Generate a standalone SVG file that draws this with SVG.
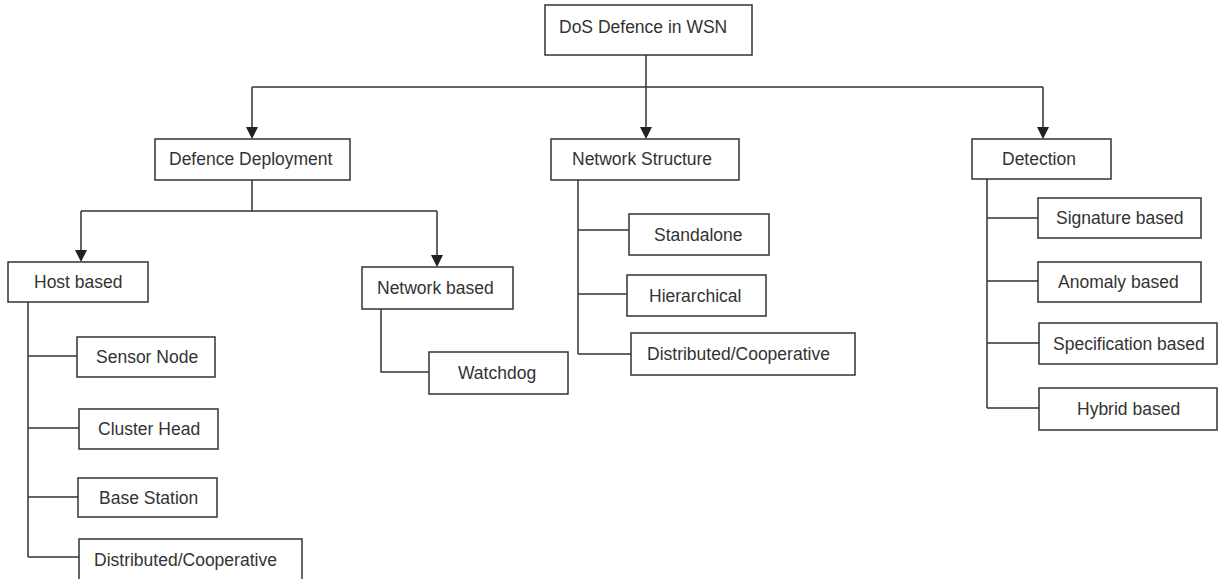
<svg xmlns="http://www.w3.org/2000/svg" width="1219" height="579" viewBox="0 0 1219 579">
<style>
.box{fill:#fff;stroke:#333;stroke-width:1.5}
.lbl{font-family:"Liberation Sans",Arial,sans-serif;font-size:17.5px;fill:#333}
.ln{fill:none;stroke:#333;stroke-width:1.5}
.arw{fill:none;stroke:#333;stroke-width:1.5;marker-end:url(#arr)}
</style>
<defs>
<marker id="arr" markerUnits="userSpaceOnUse" markerWidth="12" markerHeight="12" refX="6" refY="12" orient="auto" viewBox="0 0 12 12">
<path d="M0,0 L12,0 L6,12 Z" fill="#222" transform="rotate(-90 6 6) rotate(90 6 6)"/>
</marker>
</defs>
<rect width="1219" height="579" fill="#fff"/>
<g id="connectors">
<path class="ln" d="M646,55 V87 M252,87 H1043"/>
<path class="ln" d="M252,87 V128 M646,87 V128 M1043,87 V128"/>
<path d="M246,127 L258,127 L252,139 Z M640,127 L652,127 L646,139 Z M1037,127 L1049,127 L1043,139 Z" fill="#222"/>
<path class="ln" d="M252,180 V211 M81,211 H437 M81,211 V251 M437,211 V256"/>
<path d="M75,250 L87,250 L81,262 Z M431,255 L443,255 L437,267 Z" fill="#222"/>
<path class="ln" d="M28,302 V557 M28,356 H77 M28,428 H79 M28,497 H78 M28,557 H79"/>
<path class="ln" d="M381,309 V372 H429"/>
<path class="ln" d="M578,180 V354 M578,230 H629 M578,294 H627 M578,354 H631"/>
<path class="ln" d="M987,179 V408 M987,218 H1038 M987,281 H1038 M987,343 H1039 M987,408 H1039"/>
</g>
<g id="root"><rect class="box" x="545" y="5" width="207" height="50"/><text class="lbl" x="559" y="33">DoS Defence in WSN</text></g>
<g id="defence-deployment"><rect class="box" x="155" y="139" width="195" height="41"/><text class="lbl" x="169" y="165">Defence Deployment</text></g>
<g id="network-structure"><rect class="box" x="551" y="139" width="188" height="41"/><text class="lbl" x="572" y="165">Network Structure</text></g>
<g id="detection"><rect class="box" x="972" y="139" width="139" height="40"/><text class="lbl" x="1002" y="165">Detection</text></g>
<g id="host-based"><rect class="box" x="8" y="262" width="140" height="40"/><text class="lbl" x="34" y="288">Host based</text></g>
<g id="network-based"><rect class="box" x="362" y="267" width="151" height="42"/><text class="lbl" x="377" y="294">Network based</text></g>
<g id="sensor-node"><rect class="box" x="77" y="337" width="138" height="40"/><text class="lbl" x="96" y="363">Sensor Node</text></g>
<g id="cluster-head"><rect class="box" x="79" y="409" width="139" height="40"/><text class="lbl" x="98" y="435">Cluster Head</text></g>
<g id="base-station"><rect class="box" x="78" y="478" width="139" height="39"/><text class="lbl" x="99" y="504">Base Station</text></g>
<g id="host-distributed"><rect class="box" x="79" y="539" width="223" height="45"/><text class="lbl" x="94" y="566">Distributed/Cooperative</text></g>
<g id="watchdog"><rect class="box" x="429" y="352" width="139" height="42"/><text class="lbl" x="458" y="379">Watchdog</text></g>
<g id="standalone"><rect class="box" x="629" y="214" width="140" height="41"/><text class="lbl" x="654" y="241">Standalone</text></g>
<g id="hierarchical"><rect class="box" x="627" y="275" width="139" height="41"/><text class="lbl" x="649" y="302">Hierarchical</text></g>
<g id="ns-distributed"><rect class="box" x="631" y="333" width="224" height="42"/><text class="lbl" x="647" y="360">Distributed/Cooperative</text></g>
<g id="signature-based"><rect class="box" x="1038" y="198" width="163" height="40"/><text class="lbl" x="1056" y="224">Signature based</text></g>
<g id="anomaly-based"><rect class="box" x="1038" y="262" width="163" height="40"/><text class="lbl" x="1058" y="288">Anomaly based</text></g>
<g id="specification-based"><rect class="box" x="1039" y="323" width="178" height="41"/><text class="lbl" x="1053" y="350">Specification based</text></g>
<g id="hybrid-based"><rect class="box" x="1039" y="388" width="178" height="42"/><text class="lbl" x="1077" y="415">Hybrid based</text></g>
</svg>
